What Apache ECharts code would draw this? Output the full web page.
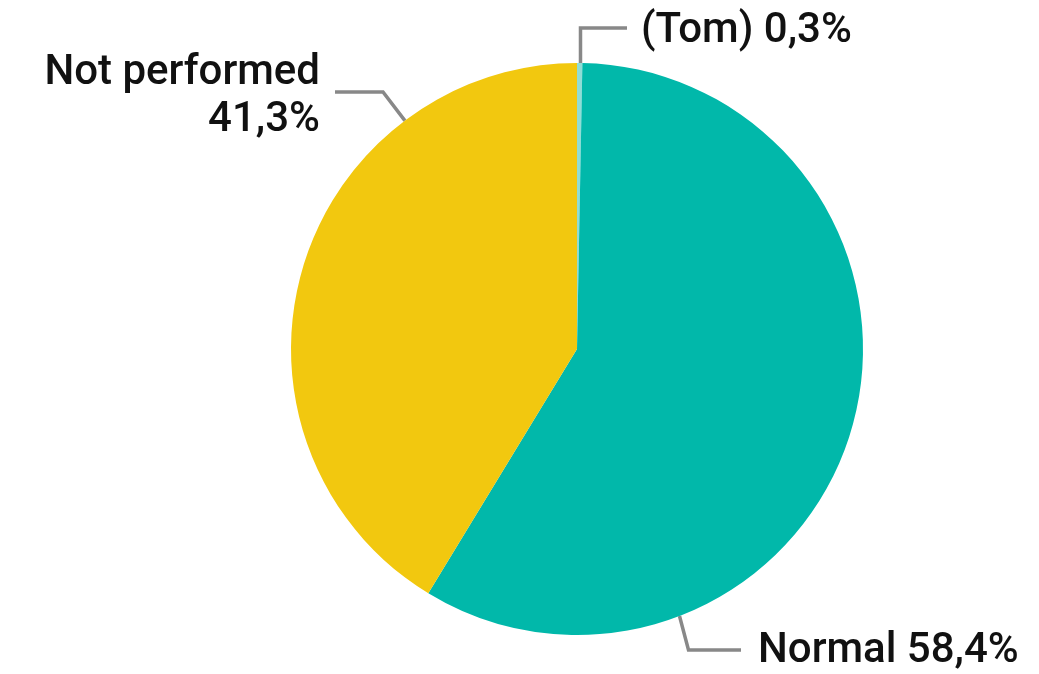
<!DOCTYPE html>
<html>
<head>
<meta charset="utf-8">
<script src="https://cdn.jsdelivr.net/npm/echarts@6/dist/echarts.min.js"></script>
<style>
  html, body { margin: 0; padding: 0; background: #fff; }
  #main { width: 1039px; height: 674px; }
</style>
</head>
<body>
<div id="main"></div>
<script>
// slice names and shares (%), clockwise from 12 o'clock
var names = ['(Tom)', 'Normal', 'Not performed'];
var values = [0.3, 58.4, 41.3];
var labelTexts = ['(Tom) 0,3%', 'Normal 58,4%', 'Not performed\n41,3%'];
var colors = ['#8FDDD6', '#01B8AA', '#F2C80F'];

var cx = 577, cy = 349, r = 286;

// where each label line leaves the pie (degrees clockwise from top)
var anchorDeg = [0.5, 159, 323];

function edge(deg) {
  var a = deg * Math.PI / 180;
  return [cx + r * Math.sin(a), cy - r * Math.cos(a)];
}

var myChart = echarts.init(document.getElementById('main'));

var data = names.map(function (n, i) {
  return { name: n, value: values[i], itemStyle: { color: colors[i] } };
});

option = {
  animation: false,
  series: [{
    type: 'pie',
    center: [cx, cy],
    radius: [0, r],
    startAngle: 90,
    clockwise: true,
    data: data,
    itemStyle: { borderWidth: 0 },
    label: {
      show: true,
      formatter: function (p) { return labelTexts[p.dataIndex]; },
      fontFamily: 'Roboto',
      fontWeight: 500,
      fontSize: 42,
      lineHeight: 47,
      color: '#111',
      overflow: 'none'
    },
    labelLine: {
      show: true,
      lineStyle: { color: '#888', width: 3.5 }
    },
    labelLayout: function (params) {
      var i = params.dataIndex;
      var p0 = edge(anchorDeg[i]);
      if (i === 1) {
        var p1 = [p0[0] + 9, 650];
        return { x: 758, y: 651, align: 'left', verticalAlign: 'middle',
          labelLinePoints: [p0, p1, [741, 650]] };
      }
      if (i === 2) {
        var q1 = [383, 92];
        return { x: 320, y: 97, align: 'right', verticalAlign: 'middle',
          labelLinePoints: [p0, q1, [335, 92]] };
      }
      return { x: 641, y: 31, align: 'left', verticalAlign: 'middle',
        labelLinePoints: [[p0[0] + 1, p0[1]], [p0[0] + 1, 28], [627, 28]] };
    }
  }]
};

myChart.setOption(option);
</script>
</body>
</html>
